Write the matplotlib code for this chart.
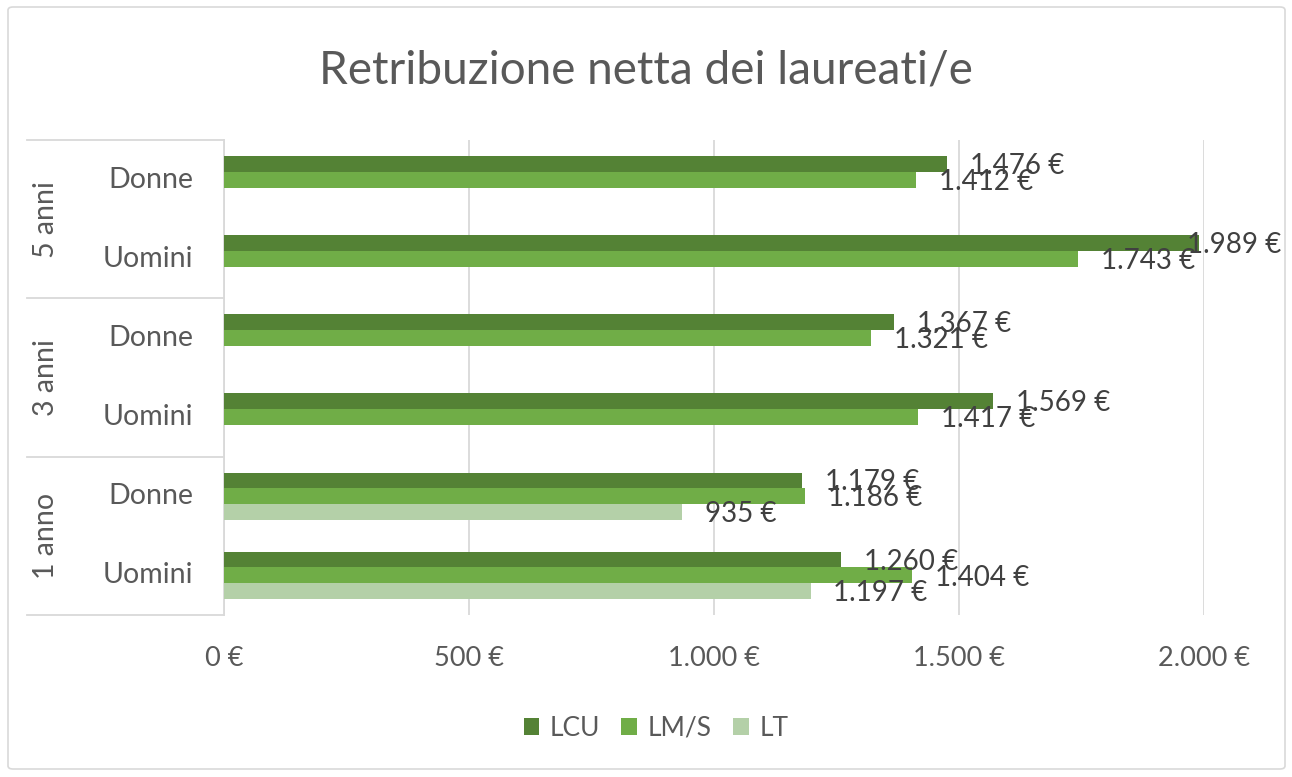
import matplotlib
matplotlib.use("Agg")
import matplotlib.pyplot as plt
import numpy as np
from matplotlib.patches import FancyBboxPatch
from matplotlib.transforms import blended_transform_factory

plt.rcParams['font.family'] = ['Lato', 'DejaVu Sans']

# dati (dal basso verso l'alto)
gruppi = ['1 anno', '3 anni', '5 anni']
sottocategorie = ['Uomini', 'Donne', 'Uomini', 'Donne', 'Uomini', 'Donne']
lcu = [1260, 1179, 1569, 1367, 1989, 1476]
lms = [1404, 1186, 1417, 1321, 1743, 1412]
lt = [1197, 935, np.nan, np.nan, np.nan, np.nan]
serie = ['LCU', 'LM/S', 'LT']
colori = ['#548235', '#70AD47', '#B4D0A8']
tick_vals = [0, 500, 1000, 1500, 2000]

W, H = 1292, 777
fig = plt.figure(figsize=(W / 100, H / 100), dpi=100)

# bordo esterno
fig.add_artist(FancyBboxPatch((8 / W, 8 / H), 1277 / W, 762 / H,
                              boxstyle='round,pad=0,rounding_size=0.004',
                              transform=fig.transFigure, fill=False,
                              edgecolor='#D9D9D9', linewidth=1.2))

x0, x1, ytop, ybot = 224, 1204, 140, 615
ax = fig.add_axes([x0 / W, 1 - ybot / H, (x1 - x0) / W, (ybot - ytop) / H])

def fmt(v):
    return f"{v:,.0f}".replace(",", ".") + " €"

y = np.arange(len(sottocategorie))
h = 0.2
offs = [h, 0, -h]
testi = []
for vals, off, col, nome in zip([lcu, lms, lt], offs, colori, serie):
    vals = np.array(vals, dtype=float)
    ax.barh(y + off, vals, height=h, color=col, label=nome, zorder=3)
    for yi, v in zip(y, vals):
        if np.isnan(v):
            continue
        t = ax.annotate(fmt(v), (v, yi + off), xytext=(16.5, -1.5),
                        textcoords='offset points', ha='left', va='center',
                        fontsize=20, color='#404040', zorder=4)
        testi.append(t)

ax.set_xlim(0, 2000)
ax.set_ylim(-0.5, len(sottocategorie) - 0.5)
ax.set_xticks(tick_vals)
ax.set_xticklabels([fmt(v) for v in tick_vals], fontsize=19.5, color='#595959')
ax.set_yticks([])
ax.tick_params(axis='x', length=0, pad=22)
ax.grid(axis='x', color='#D9D9D9', linewidth=1.3, zorder=0)
for s in ['top', 'right', 'bottom']:
    ax.spines[s].set_visible(False)
ax.spines['left'].set_color('#D9D9D9')
ax.spines['left'].set_linewidth(1.3)

# asse categorie a due livelli
tr = blended_transform_factory(ax.transAxes, ax.transData)
xl = (27 - x0) / (x1 - x0)
for yy in [-0.5, 1.5, 3.5, 5.5]:
    ax.plot([xl, 0], [yy, yy], transform=tr, color='#D9D9D9',
            linewidth=1.3, clip_on=False)
for yi, nome in zip(y, sottocategorie):
    ax.text((193 - x0) / (x1 - x0), yi, nome, transform=tr, ha='right',
            va='center', fontsize=20.5, color='#595959')
for i, g in enumerate(gruppi):
    ax.text((46 - x0) / (x1 - x0), 2 * i + 0.5, g, transform=tr, ha='center',
            va='center', rotation=90, fontsize=20.5, color='#595959')

fig.text(0.5, 1 - 70 / H, 'Retribuzione netta dei laureati/e', ha='center',
         va='center', fontsize=33, color='#595959')

ax.legend(loc='center', bbox_to_anchor=(656 / W, 1 - 728 / H),
          bbox_transform=fig.transFigure, ncol=3, frameon=False,
          fontsize=19, handlelength=0.6, handleheight=0.6,
          handletextpad=0.4, columnspacing=0.8, labelcolor='#595959')

# sposta le etichette che escono dal grafico
fig.canvas.draw()
r = fig.canvas.get_renderer()
lim = 1281
for t in testi:
    bb = t.get_window_extent(r)
    if bb.x1 > lim:
        dx = (bb.x1 - lim) * 72 / fig.dpi
        xa, ya = t.xyann
        t.xyann = (xa - dx, ya)

fig.savefig('out.png', dpi=100)
